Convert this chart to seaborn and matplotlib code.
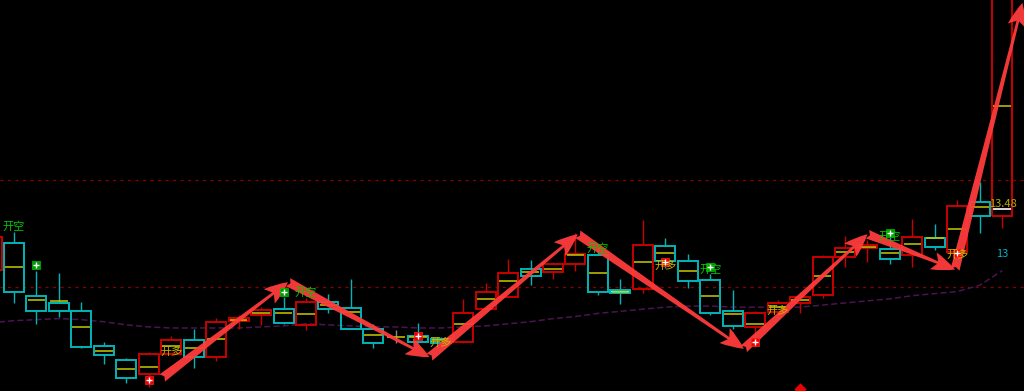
import numpy as np
import pandas as pd
import matplotlib
matplotlib.use("Agg")
import matplotlib.pyplot as plt
import seaborn as sns

# ---------------- data ----------------
bar_index = list(range(-1, 45))
opens = [12.85, 13.11, 12.60, 12.53, 12.45, 12.12, 11.98, 11.85, 12.04, 12.17,
         12.01, 12.36, 12.41, 12.47, 12.32, 12.54, 12.48, 12.28, 12.20, 12.21,
         12.18, 12.16, 12.47, 12.59, 12.86, 12.83, 12.90, 12.99, 12.65, 12.66,
         13.08, 12.93, 12.75, 12.45, 12.30, 12.44, 12.53, 12.61, 12.97, 13.06,
         13.05, 12.99, 13.15, 13.02, 13.50, 13.36]
highs = [13.18, 13.21, 12.84, 12.82, 12.54, 12.16, 12.00, 12.06, 12.21, 12.28,
         12.39, 12.41, 12.49, 12.59, 12.58, 12.62, 12.76, 12.33, 12.27, 12.34,
         12.20, 12.57, 12.72, 12.95, 12.94, 12.92, 13.20, 13.07, 12.76, 13.33,
         13.15, 13.00, 12.81, 12.65, 12.45, 12.56, 12.64, 12.99, 13.17, 13.13,
         13.23, 13.34, 13.29, 13.52, 13.69, 15.53]
lows = [12.83, 12.53, 12.33, 12.40, 12.10, 11.94, 11.76, 11.72, 12.03, 11.91,
        11.97, 12.28, 12.32, 12.33, 12.27, 12.43, 12.28, 12.10, 12.15, 12.15,
        12.13, 12.15, 12.47, 12.59, 12.70, 12.76, 12.84, 12.61, 12.52, 12.63,
        12.87, 12.67, 12.41, 12.28, 12.11, 12.42, 12.43, 12.58, 12.88, 12.92,
        12.90, 12.88, 13.04, 13.02, 13.20, 13.25]
closes = [13.16, 12.64, 12.45, 12.45, 12.11, 12.03, 11.81, 12.04, 12.17, 12.01,
          12.35, 12.39, 12.46, 12.34, 12.54, 12.47, 12.28, 12.15, 12.20, 12.16,
          12.15, 12.43, 12.64, 12.82, 12.79, 12.90, 13.00, 12.64, 12.63, 13.09,
          12.93, 12.74, 12.43, 12.31, 12.43, 12.53, 12.59, 12.97, 13.06, 13.09,
          12.95, 13.16, 13.07, 13.46, 13.36, 15.48]
avg_price = [13.08, 12.88, 12.56, 12.55, 12.30, 12.07, 11.90, 11.92, 12.12, 12.10,
             12.18, 12.37, 12.43, 12.43, 12.42, 12.51, 12.44, 12.22, 12.20, 12.20,
             12.17, 12.33, 12.57, 12.74, 12.83, 12.86, 12.99, 12.82, 12.64, 12.92,
             13.01, 12.84, 12.60, 12.42, 12.33, 12.49, 12.56, 12.79, 13.02, 13.07,
             13.01, 13.10, 13.15, 13.24, 13.45, 14.42]
ma_line = [12.34, 12.36, 12.37, 12.38, 12.37, 12.35, 12.32, 12.30, 12.29, 12.29,
           12.29, 12.29, 12.30, 12.31, 12.33, 12.32, 12.31, 12.30, 12.30, 12.29,
           12.29, 12.30, 12.31, 12.33, 12.35, 12.38, 12.40, 12.43, 12.45, 12.47,
           12.49, 12.50, 12.50, 12.49, 12.49, 12.49, 12.49, 12.51, 12.53, 12.55,
           12.57, 12.60, 12.62, 12.64, 12.70, 12.84]

last_price_mark = 13.43          # white tick inside last bar
ref_levels = [13.71, 12.68]      # dotted red horizontal levels

# wave arrows (turning points)
wave_x = [6.6, 12.2, 18.5, 25.1, 32.5, 38.0, 41.9, 44.9]
wave_y = [11.81, 12.73, 12.01, 13.19, 12.09, 13.19, 12.85, 15.41]

# signals
short_x = [1, 12, 31, 39]
short_y = [12.89, 12.64, 12.88, 13.20]
long_x = [6, 18, 29, 33, 42]
long_y = [11.79, 12.21, 12.92, 12.16, 13.01]
diamond_x = [35]
diamond_y = [11.70]

short_text_x = [0, 13, 26, 31, 39]
short_text_y = [13.26, 12.63, 13.05, 12.85, 13.17]
long_text_x = [7, 19, 29, 34, 42]
long_text_y = [12.06, 12.15, 12.89, 12.45, 12.99]
short_label = "开空"
long_label = "开多"

price_label = "13.48"
price_label_pos = (44.05, 13.48)
count_label = "13"
count_label_pos = (44.0, 13.00)

# ---------------- drawing ----------------
sns.set_style("dark")
plt.rcParams['font.family'] = ['Noto Sans CJK SC', 'DejaVu Sans']

fig = plt.figure(figsize=(10.24, 3.91), dpi=100, facecolor='black')
ax = fig.add_axes([0, 0, 1, 1])
ax.set_facecolor('black')

df = pd.DataFrame({'i': bar_index, 'o': opens, 'h': highs, 'l': lows,
                   'c': closes, 'a': avg_price, 'ma': ma_line})

UP = '#c80000'
DOWN = '#00b4b8'
FLAT = '#8a8a8a'
W = 0.89

for _, r in df.iterrows():
    top, bot = max(r.o, r.c), min(r.o, r.c)
    if r.c > r.o:
        col = UP
    elif r.c < r.o:
        col = DOWN
    else:
        col = FLAT
    if col == FLAT:
        ax.vlines(r.i, r.l, r.h, color=col, lw=1.0, zorder=3)
    else:
        ax.vlines(r.i, top, r.h, color=col, lw=1.0, zorder=3)
        ax.vlines(r.i, r.l, bot, color=col, lw=1.0, zorder=3)
        face = 'none'
        if col == DOWN and (top - bot) < 0.025:
            face = '#7fffd0'
        ax.bar(r.i, max(top - bot, 0.004), bottom=bot, width=W,
               facecolor=face, edgecolor=col, lw=1.4, zorder=3)
    ax.hlines(r.a, r.i - W / 2 + 0.05, r.i + W / 2 - 0.05, color='#c8c800',
              lw=1.1, zorder=4)

ax.hlines(last_price_mark, bar_index[-1] - W / 2 + 0.05, bar_index[-1] + W / 2 - 0.05,
          color='white', lw=1.2, zorder=4)

for lv in ref_levels:
    ax.axhline(lv, color='#8a0000', lw=0.9, ls=(0, (2.5, 3.5)), zorder=1)

sns.lineplot(data=df, x='i', y='ma', ax=ax, color='#4a1450', lw=1.1,
             linestyle=(0, (4, 2)), zorder=2)

# arrows
for k in range(len(wave_x) - 1):
    ax.annotate('', xy=(wave_x[k + 1], wave_y[k + 1]), xytext=(wave_x[k], wave_y[k]),
                arrowprops=dict(arrowstyle='fancy,head_length=1.3,head_width=1.0,tail_width=0.5',
                                color='#ff3c3c', mutation_scale=13, shrinkA=0, shrinkB=0,
                                lw=0, alpha=0.95), zorder=6)

# signal markers
sns.scatterplot(x=short_x, y=short_y, ax=ax, marker='s', s=38, color='#009a00',
                edgecolor='#00c000', linewidth=0.5, zorder=7)
sns.scatterplot(x=long_x, y=long_y, ax=ax, marker='s', s=38, color='#ee0000',
                edgecolor='#ff2020', linewidth=0.5, zorder=7)
sns.scatterplot(x=short_x + long_x, y=short_y + long_y, ax=ax, marker='+', s=14,
                color='white', linewidth=1.0, zorder=8)
sns.scatterplot(x=diamond_x, y=diamond_y, ax=ax, marker='D', s=40, color='#ee0000',
                linewidth=0, zorder=7)

for x, y in zip(short_text_x, short_text_y):
    ax.text(x, y, short_label, color='#00c800', fontsize=8, ha='center', va='center',
            zorder=7)
for x, y in zip(long_text_x, long_text_y):
    ax.text(x, y, long_label, color='#c8b400', fontsize=8, ha='center', va='center',
            zorder=7)

ax.text(*price_label_pos, price_label, color='#b8a800', fontsize=8, ha='center',
        va='center', zorder=7)
ax.text(*count_label_pos, count_label, color='#00b4c8', fontsize=8, ha='center',
        va='center', zorder=7)

ax.set_xlim(-0.623, 44.97)
ax.set_ylim(11.685, 15.438)
ax.set_xticks([])
ax.set_yticks([])
ax.set_xlabel('')
ax.set_ylabel('')
for s in ax.spines.values():
    s.set_visible(False)
ax.grid(False)

fig.savefig('out.png', dpi=100, facecolor='black')
